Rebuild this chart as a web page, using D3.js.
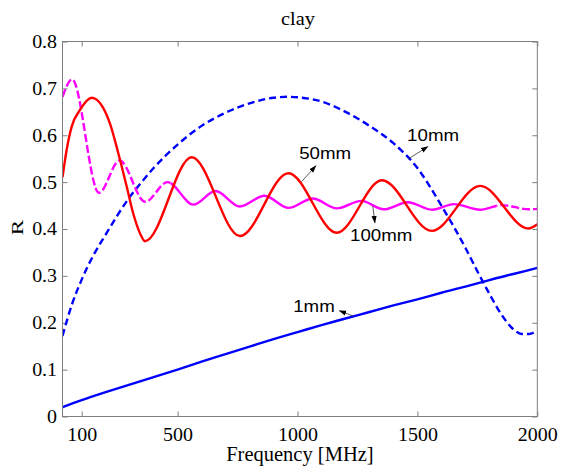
<!DOCTYPE html>
<html><head><meta charset="utf-8">
<script src="https://cdn.jsdelivr.net/npm/d3@7"></script>
<style>body{margin:0;background:#fff;} svg{display:block;}</style>
</head><body>
<svg id="chart" width="570" height="468"></svg>
<script>
// ---- data ----
const titleText = "clay";
const xLabel = "Frequency [MHz]";
const yLabel = "R";
const xTicks = [100, 500, 1000, 1500, 2000];
const yTicks = [0, 0.1, 0.2, 0.3, 0.4, 0.5, 0.6, 0.7, 0.8];
const xDomain = [20, 2000];
const yDomain = [0, 0.8];

// 1mm (blue solid)
const f1mm = [20,100,200,300,400,500,600,700,800,900,1000,1100,1200,1300,1400,1500,1600,1700,1800,1900,2000];
const r1mm = [0.020,0.035,0.052,0.068,0.084,0.100,0.117,0.133,0.149,0.165,0.180,0.195,0.209,0.223,0.237,0.250,0.264,0.277,0.291,0.304,0.317];

// 10mm (blue dashed)
const f10mm = [20,60,100,150,200,250,300,350,400,500,600,700,800,900,960,1000,1100,1200,1300,1400,1500,1600,1700,1750,1800,1850,1900,1935,1965,2000];
const r10mm = [0.172,0.240,0.292,0.345,0.388,0.430,0.468,0.500,0.530,0.580,0.620,0.648,0.668,0.680,0.682,0.681,0.672,0.650,0.620,0.583,0.530,0.450,0.360,0.310,0.262,0.218,0.186,0.176,0.176,0.183];

// 50mm (red solid)
const f50mm = [20,37,58,93,142,218,253,288,315,343,364,559,760,962,1164,1352,1560,1762,1963,2000];
const r50mm = [0.510,0.568,0.618,0.654,0.680,0.625,0.561,0.490,0.433,0.391,0.374,0.553,0.385,0.519,0.392,0.504,0.396,0.492,0.401,0.410];

// 100mm (magenta dashed)
const f100mm = [20,60,172,258,365,458,566,658,760,862,962,1064,1164,1266,1360,1460,1562,1652,1762,1852,1965,2000];
const r100mm = [0.682,0.719,0.477,0.546,0.458,0.500,0.452,0.481,0.448,0.471,0.445,0.465,0.444,0.460,0.442,0.457,0.441,0.453,0.441,0.451,0.442,0.443];

// annotations
const annLabels = ["10mm", "50mm", "100mm", "1mm"];
const annTail = [[1461,0.549],[1017,0.501],[1314,0.449],[1233,0.214]];
const annHead = [[1544,0.576],[1077,0.535],[1323,0.413],[1174,0.226]];
const annText = [[1457,0.588],[1007,0.549],[1219,0.375],[982,0.224]];

// ---- drawing ----
const svg = d3.select("#chart");
const L = 62.5, R = 537.3, T = 41.5, B = 416.5;
const x = d3.scaleLinear().domain(xDomain).range([L, R]);
const y = d3.scaleLinear().domain(yDomain).range([B, T]);
const gray = "#7f7f7f";
const serif = "'Liberation Serif','Times New Roman',serif";
const sans = "'Liberation Sans',Arial,sans-serif";

const defs = svg.append("defs");
defs.append("clipPath").attr("id","plotclip").append("rect")
  .attr("x", L).attr("y", T).attr("width", R-L).attr("height", B-T);
const fSolidStart = 470, fSolidEnd = 1830;
defs.append("clipPath").attr("id","magSolid").append("rect")
  .attr("x", x(fSolidStart)).attr("y", T).attr("width", x(fSolidEnd)-x(fSolidStart)).attr("height", B-T);
const cpd = defs.append("clipPath").attr("id","magDash");
cpd.append("rect").attr("x", L).attr("y", T).attr("width", x(fSolidStart)-L).attr("height", B-T);
cpd.append("rect").attr("x", x(fSolidEnd)).attr("y", T).attr("width", R-x(fSolidEnd)).attr("height", B-T);
defs.append("marker").attr("id","arrow").attr("markerUnits","userSpaceOnUse")
  .attr("markerWidth",8).attr("markerHeight",6).attr("refX",7).attr("refY",3)
  .attr("orient","auto")
  .append("path").attr("d","M0,0.4 L7.5,3 L0,5.6 Z").attr("fill","#000");

// axes
const tickLen = 5;
const tickFont = "18.5px";
function styleAxis(g){
  g.select(".domain").remove();
  g.selectAll(".tick line").attr("stroke", gray);
  g.selectAll("text").attr("fill","#000").style("font-family", serif).style("font-size", tickFont);
}
const gx = svg.append("g").attr("transform",`translate(0,${B})`)
  .call(d3.axisBottom(x).tickValues(xTicks).tickSizeInner(-tickLen).tickSizeOuter(0).tickPadding(11.5).tickFormat(d3.format("d")));
styleAxis(gx);
gx.selectAll("text").attr("transform","scale(1.08,1)");
const gy = svg.append("g").attr("transform",`translate(${L},0)`)
  .call(d3.axisLeft(y).tickValues(yTicks).tickSizeInner(-tickLen).tickSizeOuter(0).tickPadding(5).tickFormat(d => d === 0 ? "0" : d3.format(".1f")(d)));
styleAxis(gy);
gy.selectAll("text").attr("transform","scale(1.08,1)");
const gt = svg.append("g").attr("transform",`translate(0,${T})`)
  .call(d3.axisTop(x).tickValues(xTicks).tickSizeInner(-tickLen).tickSizeOuter(0).tickFormat(""));
styleAxis(gt);
const gr = svg.append("g").attr("transform",`translate(${R},0)`)
  .call(d3.axisRight(y).tickValues(yTicks).tickSizeInner(-tickLen).tickSizeOuter(0).tickFormat(""));
styleAxis(gr);

// curves
const line = d3.line().x(d => x(d[0])).y(d => y(d[1])).curve(d3.curveMonotoneX);
const zip = (a, b) => a.map((v, i) => [v, b[i]]);
const plot = svg.append("g").attr("clip-path","url(#plotclip)");

plot.append("path").attr("d", line(zip(f10mm, r10mm)))
  .attr("fill","none").attr("stroke","#0000ff").attr("stroke-width",2.4).attr("stroke-dasharray","7,4");
plot.append("path").attr("d", line(zip(f1mm, r1mm)))
  .attr("fill","none").attr("stroke","#0000ff").attr("stroke-width",2.4);
const magD = line(zip(f100mm, r100mm));
plot.append("g").attr("clip-path","url(#magDash)").append("path").attr("d", magD)
  .attr("fill","none").attr("stroke","#ff00ff").attr("stroke-width",2.4).attr("stroke-dasharray","8,3");
plot.append("g").attr("clip-path","url(#magSolid)").append("path").attr("d", magD)
  .attr("fill","none").attr("stroke","#ff00ff").attr("stroke-width",2.4);
plot.append("path").attr("d", line(zip(f50mm, r50mm)))
  .attr("fill","none").attr("stroke","#ff0000").attr("stroke-width",2.4);

// frame
svg.append("rect").attr("x", L).attr("y", T).attr("width", R-L).attr("height", B-T)
  .attr("fill","none").attr("stroke", gray).attr("stroke-width",1);

// annotations
annLabels.forEach((lab, i) => {
  svg.append("line")
    .attr("x1", x(annTail[i][0])).attr("y1", y(annTail[i][1]))
    .attr("x2", x(annHead[i][0])).attr("y2", y(annHead[i][1]))
    .attr("stroke","#333").attr("stroke-width",0.8).attr("marker-end","url(#arrow)");
  svg.append("g").attr("transform",`translate(${x(annText[i][0])},${y(annText[i][1])})`)
    .append("text").attr("transform","scale(1.1,1)")
    .style("font-family", sans).style("font-size","17px").attr("fill","#000").text(lab);
});

// title & labels
svg.append("text").attr("transform",`translate(${(L+R)/2 - 2},25) scale(1.1,1)`)
  .attr("text-anchor","middle").style("font-family", serif).style("font-size","18.5px").text(titleText);
svg.append("text").attr("transform",`translate(${(L+R)/2},461)`)
  .attr("text-anchor","middle").style("font-family", serif).style("font-size","20.5px").text(xLabel);
svg.append("text").attr("transform",`translate(23.3,${(T+B)/2 - 1.5}) rotate(-90) scale(1.15,0.8)`)
  .attr("text-anchor","middle").style("font-family", serif).style("font-size","20px").text(yLabel);
</script>
</body></html>
